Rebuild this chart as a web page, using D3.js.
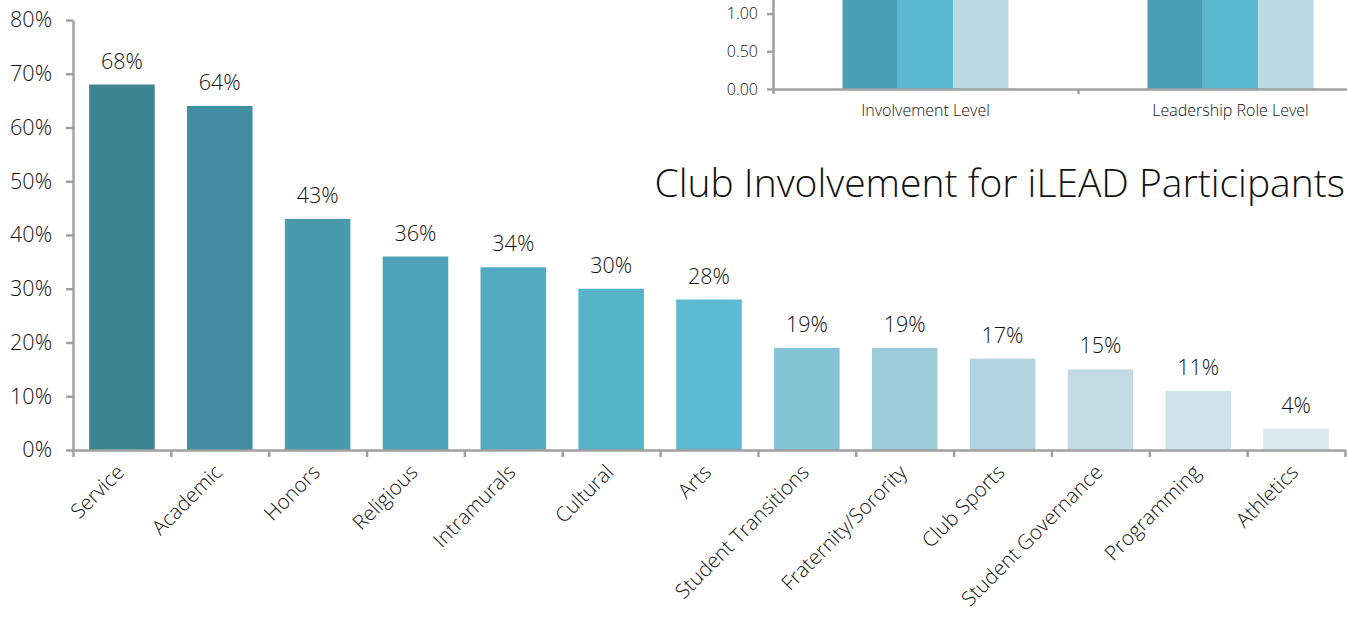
<!DOCTYPE html>
<html>
<head>
<meta charset="utf-8">
<script src="https://cdn.jsdelivr.net/npm/d3@7"></script>
<style>
  body { margin: 0; background: #fff; }
  svg text { font-family: "Open Sans", Roboto, sans-serif; font-weight: 300; fill: #111; }
  .axis path, .axis line { stroke: #a0a0a0; stroke-width: 2.5; }
</style>
</head>
<body>
<script>
var w = 1347;
var h = 617;

// main chart data
var categories = ["Service", "Academic", "Honors", "Religious", "Intramurals", "Cultural", "Arts",
    "Student Transitions", "Fraternity/Sorority", "Club Sports", "Student Governance", "Programming", "Athletics"];
var percents = [0.68, 0.64, 0.43, 0.36, 0.34, 0.30, 0.28, 0.19, 0.19, 0.17, 0.15, 0.11, 0.04];
var barColors = ["#3d8390", "#428ea0", "#4a9aae", "#4fa3b8", "#51aac1", "#55b3ca", "#5cb9d2",
    "#84c3d5", "#9dcbd9", "#b0d4df", "#c2dbe5", "#d1e4eb", "#dbe8ee"];
var yTicks = [0, 0.1, 0.2, 0.3, 0.4, 0.5, 0.6, 0.7, 0.8];

// inset chart data (tops cut off by the page edge)
var insetGroups = ["Involvement Level", "Leadership Role Level"];
var insetSeries = ["Series 1", "Series 2", "Series 3"];
var insetValues = [[2.3, 2.5, 2.2], [1.9, 2.1, 1.8]];
var insetColors = ["#4a9db2", "#5bb8d1", "#b9d9e3"];
var insetTicks = [0, 0.5, 1.0];

var svg = d3.select("body")
    .append("svg")
    .attr("width", w)
    .attr("height", h);

// ---- main bar chart ----
var xScale = d3.scaleBand()
    .domain(categories)
    .range([73, 1345])
    .paddingInner(0.33)
    .paddingOuter(0.165);

var yScale = d3.scaleLinear()
    .domain([0, 0.8])
    .range([450, 20]);

svg.selectAll("rect.bar")
    .data(categories)
    .enter()
    .append("rect")
    .attr("class", "bar")
    .attr("x", function(d) { return xScale(d); })
    .attr("y", function(d, i) { return yScale(percents[i]); })
    .attr("width", xScale.bandwidth())
    .attr("height", function(d, i) { return yScale(0) - yScale(percents[i]); })
    .attr("fill", function(d, i) { return barColors[i]; });

svg.selectAll("text.val")
    .data(categories)
    .enter()
    .append("text")
    .attr("class", "val")
    .attr("x", function(d) { return xScale(d) + xScale.bandwidth() / 2; })
    .attr("y", function(d, i) { return yScale(percents[i]) - 16; })
    .attr("text-anchor", "middle")
    .style("font-size", "21.5px")
    .text(function(d, i) { return d3.format(".0%")(percents[i]); });

var yAxis = d3.axisLeft(yScale)
    .tickValues(yTicks)
    .tickFormat(d3.format(".0%"))
    .tickSize(7)
    .tickSizeOuter(0)
    .tickPadding(14);

svg.append("g")
    .attr("class", "axis")
    .attr("transform", "translate(73,0)")
    .call(yAxis)
    .selectAll("text")
    .style("font-size", "21.5px");

// category boundaries for tick marks
var edgeScale = d3.scaleLinear().domain([0, categories.length]).range([73, 1345]);
var xAxis = d3.axisBottom(edgeScale)
    .tickValues(d3.range(categories.length + 1))
    .tickFormat("")
    .tickSize(7)
    .tickSizeOuter(0);

svg.append("g")
    .attr("class", "axis")
    .attr("transform", "translate(0,450)")
    .call(xAxis);

svg.selectAll("text.cat")
    .data(categories)
    .enter()
    .append("text")
    .attr("class", "cat")
    .attr("text-anchor", "end")
    .attr("transform", function(d) {
        return "translate(" + (xScale(d) + xScale.bandwidth() / 2 - 3) + ",467) rotate(-45)";
    })
    .attr("dy", "0.45em")
    .style("font-size", "20.5px")
    .text(function(d) { return d; });

svg.append("text")
    .attr("x", 1345)
    .attr("y", 197)
    .attr("text-anchor", "end")
    .style("font-size", "39px")
    .text("Club Involvement for iLEAD Participants");

// ---- inset chart ----
var insetX = d3.scaleBand()
    .domain(insetGroups)
    .range([773, 1383]);

var insetSub = d3.scaleBand()
    .domain(insetSeries)
    .range([0, 166]);

var insetY = d3.scaleLinear()
    .domain([0, 3])
    .range([89, 89 - 3 * 75.4]);

var groups = svg.selectAll("g.grp")
    .data(insetGroups)
    .enter()
    .append("g")
    .attr("class", "grp")
    .attr("transform", function(d) {
        return "translate(" + (insetX(d) + insetX.bandwidth() / 2 - 83) + ",0)";
    });

groups.selectAll("rect")
    .data(function(d, i) { return insetValues[i]; })
    .enter()
    .append("rect")
    .attr("x", function(d, j) { return insetSub(insetSeries[j]); })
    .attr("y", function(d) { return insetY(d); })
    .attr("width", insetSub.bandwidth())
    .attr("height", function(d) { return insetY(0) - insetY(d); })
    .attr("fill", function(d, j) { return insetColors[j]; });

svg.append("g")
    .attr("class", "axis")
    .attr("transform", "translate(773,0)")
    .call(d3.axisLeft(insetY)
        .tickValues(insetTicks)
        .tickFormat(d3.format(".2f"))
        .tickSize(6)
        .tickSizeOuter(0)
        .tickPadding(9))
    .selectAll("text")
    .style("font-size", "16px");

var insetEdge = d3.scaleLinear().domain([0, 2]).range([773, 1383]);
svg.append("g")
    .attr("class", "axis")
    .attr("transform", "translate(0,89)")
    .call(d3.axisBottom(insetEdge)
        .tickValues([0, 1, 2])
        .tickFormat("")
        .tickSize(5)
        .tickSizeOuter(0));

svg.selectAll("text.grpLabel")
    .data(insetGroups)
    .enter()
    .append("text")
    .attr("class", "grpLabel")
    .attr("x", function(d) { return insetX(d) + insetX.bandwidth() / 2; })
    .attr("y", 116)
    .attr("text-anchor", "middle")
    .style("font-size", "16px")
    .text(function(d) { return d; });
</script>
</body>
</html>
